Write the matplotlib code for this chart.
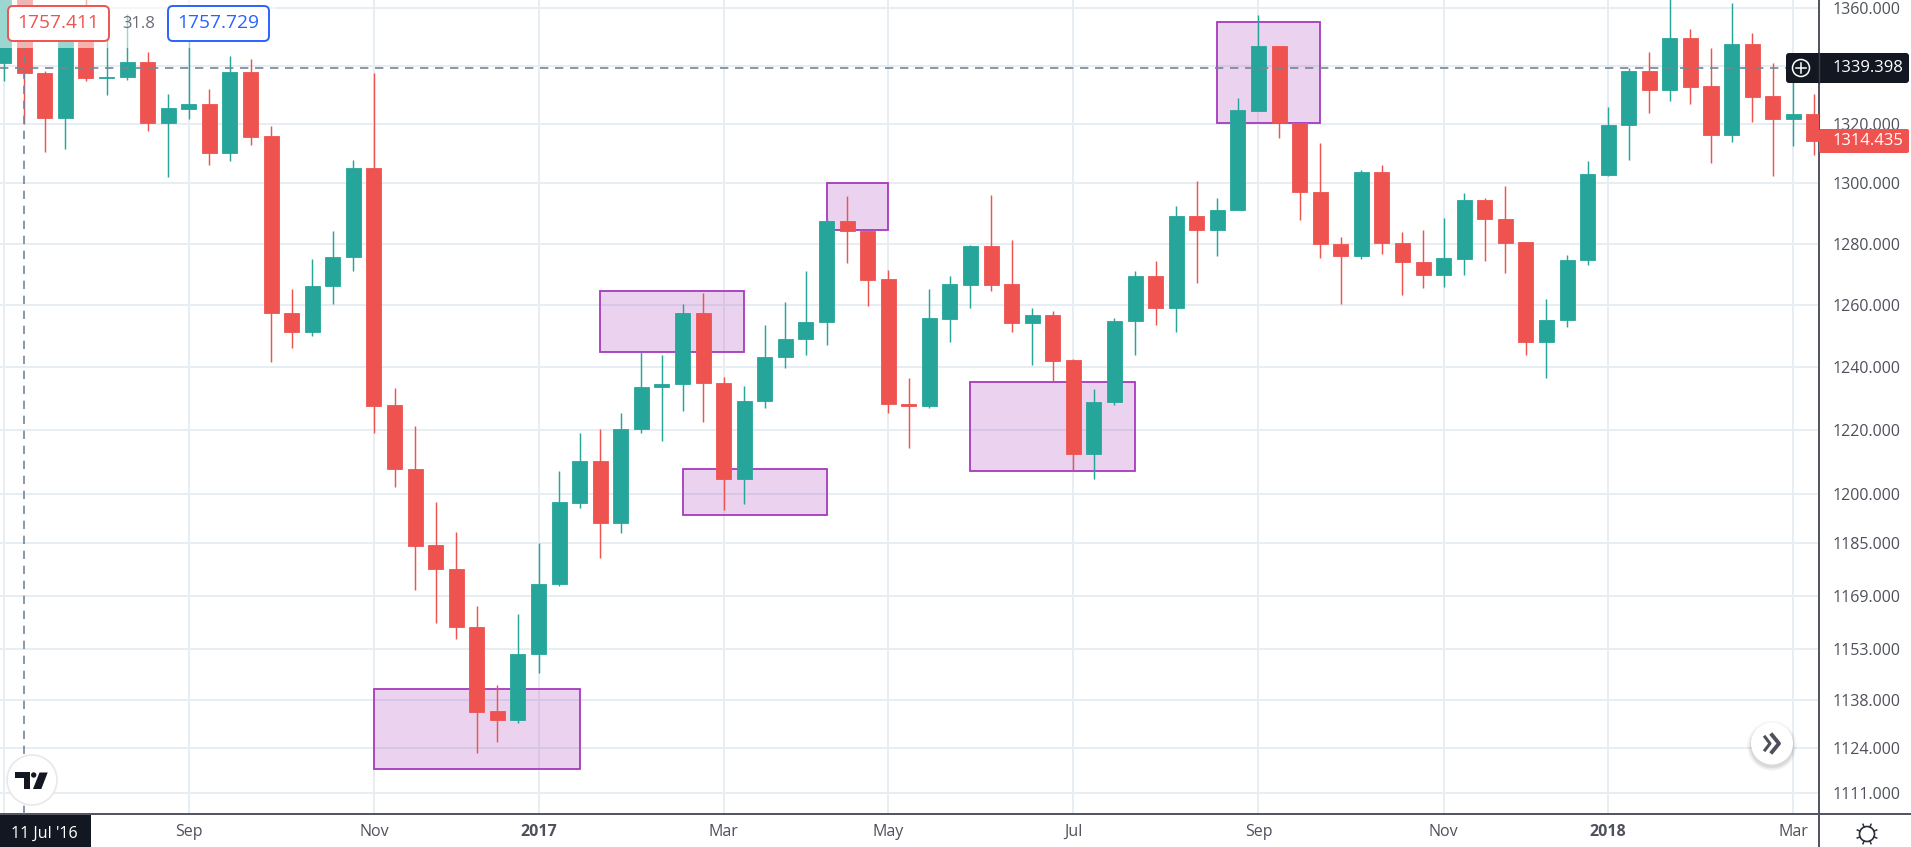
import matplotlib
matplotlib.use("Agg")
import matplotlib.pyplot as plt
from matplotlib.patches import Rectangle, FancyBboxPatch, Circle, Polygon
import numpy as np

plt.rcParams['font.family'] = ['Open Sans', 'DejaVu Sans']

# weekly candles, values
opens = [1341.1, 1364.0, 1337.5, 1322.0, 1355.9, 1335.8, 1336.0, 1341.3, 1320.4, 1325.3,
         1327.0, 1310.2, 1338.0, 1315.9, 1257.3, 1251.3, 1266.2, 1275.6, 1305.1, 1227.8,
         1207.8, 1184.3, 1177.0, 1159.7, 1134.7, 1132.2, 1151.5, 1172.5, 1197.3, 1210.4,
         1191.1, 1220.2, 1233.5, 1234.5, 1257.4, 1234.8, 1204.6, 1229.3, 1243.3, 1248.9,
         1254.4, 1287.5, 1284.2, 1268.3, 1228.3, 1227.7, 1255.4, 1266.5, 1279.2, 1266.7,
         1254.2, 1256.6, 1242.1, 1212.6, 1228.7, 1254.8, 1269.5, 1259.0, 1289.3, 1284.4,
         1291.2, 1324.6, 1346.8, 1320.4, 1297.1, 1280.0, 1276.0, 1303.8, 1280.2, 1274.0,
         1269.8, 1275.1, 1294.4, 1288.3, 1280.4, 1248.1, 1255.0, 1274.6, 1302.9, 1319.6,
         1338.2, 1331.6, 1349.7, 1333.0, 1316.3, 1347.5, 1329.6, 1321.9, 1323.4]
highs = [1366.0, 1365.0, 1338.2, 1360.0, 1366.0, 1351.4, 1358.0, 1344.9, 1330.2, 1348.6,
         1332.1, 1343.5, 1342.3, 1319.4, 1265.1, 1274.9, 1284.3, 1307.9, 1337.4, 1233.3,
         1221.2, 1197.7, 1188.3, 1165.9, 1142.4, 1163.5, 1185.0, 1207.1, 1219.0, 1220.2,
         1225.5, 1244.9, 1243.8, 1260.2, 1263.9, 1236.8, 1233.9, 1253.5, 1261.0, 1271.0,
         1288.4, 1295.7, 1284.2, 1271.3, 1236.6, 1265.1, 1269.5, 1279.5, 1296.2, 1281.2,
         1258.9, 1258.1, 1242.6, 1233.0, 1255.7, 1270.9, 1274.3, 1292.4, 1300.7, 1295.1,
         1328.9, 1357.6, 1346.8, 1320.4, 1313.7, 1282.2, 1304.5, 1306.2, 1283.9, 1284.4,
         1288.6, 1296.9, 1295.0, 1299.2, 1280.4, 1261.8, 1276.2, 1307.6, 1326.0, 1339.1,
         1344.9, 1366.0, 1352.6, 1346.1, 1361.9, 1351.5, 1340.9, 1339.2, 1330.2]
lows = [1334.9, 1320.0, 1310.6, 1311.6, 1334.6, 1329.8, 1335.0, 1317.8, 1302.3, 1321.7,
        1306.2, 1307.5, 1313.1, 1241.4, 1245.9, 1250.0, 1260.2, 1271.1, 1219.2, 1202.2,
        1170.8, 1160.8, 1156.2, 1122.5, 1125.8, 1131.4, 1146.1, 1171.8, 1195.7, 1180.5,
        1188.2, 1219.2, 1216.6, 1226.1, 1222.6, 1195.0, 1197.1, 1226.9, 1239.6, 1243.7,
        1247.0, 1273.6, 1259.7, 1225.4, 1214.2, 1226.9, 1247.9, 1259.0, 1264.6, 1251.3,
        1240.7, 1235.6, 1207.4, 1204.6, 1228.0, 1243.7, 1253.4, 1251.3, 1267.2, 1276.0,
        1291.2, 1324.6, 1315.4, 1287.9, 1275.4, 1260.4, 1275.1, 1276.6, 1263.3, 1265.4,
        1265.9, 1269.8, 1274.3, 1270.2, 1243.7, 1236.4, 1252.7, 1273.0, 1302.6, 1307.9,
        1323.9, 1328.0, 1327.0, 1306.7, 1314.1, 1320.9, 1302.6, 1312.7, 1309.7]
closes = [1365.0, 1337.4, 1322.0, 1358.4, 1335.8, 1336.0, 1341.3, 1320.4, 1325.4, 1327.0,
          1310.2, 1338.0, 1315.8, 1257.3, 1251.3, 1266.2, 1275.7, 1305.1, 1227.7, 1207.8,
          1184.2, 1177.0, 1159.6, 1134.6, 1132.2, 1151.6, 1172.6, 1197.5, 1210.4, 1191.1,
          1220.3, 1233.7, 1234.6, 1257.4, 1234.8, 1204.6, 1229.3, 1243.3, 1249.0, 1254.4,
          1287.5, 1284.1, 1268.2, 1228.2, 1227.7, 1255.7, 1266.7, 1279.2, 1266.5, 1254.2,
          1256.6, 1242.0, 1212.6, 1228.9, 1254.9, 1269.5, 1259.0, 1289.3, 1284.4, 1291.3,
          1324.8, 1346.8, 1320.4, 1297.1, 1279.8, 1276.0, 1303.8, 1280.1, 1273.9, 1269.8,
          1275.2, 1294.4, 1288.2, 1280.3, 1248.1, 1255.1, 1274.7, 1303.2, 1319.7, 1338.2,
          1331.6, 1349.7, 1332.8, 1316.3, 1347.5, 1329.4, 1321.9, 1323.4, 1314.4]

price_ticks = [1360, 1340, 1320, 1300, 1280, 1260, 1240, 1220, 1200, 1185, 1169, 1153, 1138, 1124, 1111]
month_pos = [0, 9, 18, 26, 35, 43, 52, 61, 70, 78, 87]
month_labels = ["", "Sep", "Nov", "2017", "Mar", "May", "Jul", "Sep", "Nov", "2018", "Mar"]

# purple zones: left candle, right candle, top price, bottom price
zone_left = [18, 33, 29, 40, 47, 59]
zone_right = [28, 40, 36, 43, 55, 64]
zone_top = [1141.4, 1207.9, 1264.4, 1300.3, 1235.2, 1355.2]
zone_bottom = [1118.0, 1193.7, 1244.7, 1284.5, 1207.3, 1320.5]

last_price = 1314.435
cross_price = 1339.398
cross_index = 1

GREEN = "#26a69a"
RED = "#ef5350"
GRID = "#e6eef3"
AXIS = "#50535e"
TEXT = "#4e515c"
DARK = "#131722"

W, H = 1911, 847
fig = plt.figure(figsize=(W / 100, H / 100), dpi=100)
ax = fig.add_axes([0, 33 / H, 1819 / W, 814 / H])

ax.set_yscale("log")
ax.set_ylim(1105.1, 1362.9)
ax.set_xlim(-0.18, 88.25)

ax.yaxis.tick_right()
ax.set_yticks(price_ticks)
ax.set_yticklabels(["%.3f" % p for p in price_ticks])
ax.minorticks_off()
ax.tick_params(axis="y", length=0, pad=9.5, labelsize=11.5, labelcolor=TEXT)
ax.set_xticks(month_pos)
ax.set_xticklabels(month_labels)
ax.tick_params(axis="x", length=0, pad=7, labelsize=11.5, labelcolor=TEXT)
for lab in ax.get_xticklabels():
    if lab.get_text() in ("2017", "2018"):
        lab.set_fontweight("bold")
ax.grid(True, color=GRID, lw=1.4, zorder=0)
ax.set_axisbelow(True)
for s in ["top", "left"]:
    ax.spines[s].set_visible(False)
ax.spines["right"].set_color(AXIS)
ax.spines["bottom"].set_color(AXIS)
ax.spines["right"].set_linewidth(1.4)
ax.spines["bottom"].set_linewidth(1.4)

for i in range(len(zone_left)):
    ax.add_patch(Rectangle((zone_left[i], zone_bottom[i]), zone_right[i] - zone_left[i],
                           zone_top[i] - zone_bottom[i], facecolor="#9c27b0", alpha=0.2, zorder=2))
    ax.add_patch(Rectangle((zone_left[i], zone_bottom[i]), zone_right[i] - zone_left[i],
                           zone_top[i] - zone_bottom[i], facecolor="none", edgecolor="#a63abd",
                           lw=1.3, zorder=2))

x = np.arange(len(opens))
o = np.array(opens)
c = np.array(closes)
cols = [GREEN if c[i] >= o[i] else RED for i in x]
ax.vlines(x, lows, highs, colors=cols, lw=1.05, zorder=3)
ax.bar(x, np.abs(c - o), bottom=np.minimum(o, c), width=0.73, color=cols,
       edgecolor=cols, linewidth=0.6, zorder=4)

# crosshair
ax.axhline(cross_price, xmax=1786 / 1819, color="#758696", lw=1.2, dashes=(5, 4), zorder=5)
ax.axvline(cross_index, color="#758696", lw=1.2, dashes=(5, 4), zorder=5)

# screen furniture in pixel coordinates on top of the chart
ui = fig.add_axes([0, 0, 1, 1], facecolor="none")
ui.set_xlim(0, W)
ui.set_ylim(H, 0)
ui.axis("off")

# pale band behind the measure labels
ui.add_patch(Rectangle((0, 0), 275, 48, facecolor="white", alpha=0.55, edgecolor="none"))

ui.add_patch(FancyBboxPatch((8, 6), 101, 35, boxstyle="round,pad=0,rounding_size=5",
                            facecolor="white", edgecolor=RED, lw=1.4))
ui.text(58.5, 23.5, "1757.411", color=RED, fontsize=13.8, ha="center", va="center")
ui.text(139, 23.5, "31.8", color="#6a6d78", fontsize=12, ha="center", va="center")
ui.add_patch(FancyBboxPatch((168, 6), 101, 35, boxstyle="round,pad=0,rounding_size=5",
                            facecolor="white", edgecolor="#2962ff", lw=1.4))
ui.text(218.5, 23.5, "1757.729", color="#2962ff", fontsize=13.8, ha="center", va="center")

# price tags
ui.add_patch(FancyBboxPatch((1786, 53), 123, 30, boxstyle="round,pad=0,rounding_size=3",
                            facecolor=DARK, edgecolor="none"))
ui.text(1867.5, 68, "1339.398", color="white", fontsize=12, ha="center", va="center")
ui.add_patch(Circle((1801, 68), 8.5, facecolor="none", edgecolor="white", lw=1.1))
ui.plot([1796, 1806], [68, 68], color="white", lw=1.1)
ui.plot([1801, 1801], [63, 73], color="white", lw=1.1)
ui.plot([1819, 1819], [53, 83], color="#3a3e4a", lw=1)
ui.add_patch(FancyBboxPatch((1819, 129), 90, 24, boxstyle="round,pad=0,rounding_size=2",
                            facecolor=RED, edgecolor="none"))
ui.text(1867.5, 141, "%.3f" % last_price, color="white", fontsize=12, ha="center", va="center")

# date tag under the crosshair
ui.add_patch(Rectangle((0, 815), 91, 32, facecolor=DARK, edgecolor="none"))
ui.text(44, 834, "11 Jul '16", color="white", fontsize=11.5, ha="center", va="center")

# axis corner
ui.plot([1819, 1819], [814, 847], color=AXIS, lw=1.4)
ui.plot([1819, W], [814.5, 814.5], color=AXIS, lw=1.4)

# sun icon
ui.add_patch(Circle((1867, 834), 7.5, facecolor="none", edgecolor="#2a2e39", lw=1.2))
for a in np.arange(0, 360, 45) + 22.5:
    ca, sa = np.cos(np.radians(a)), np.sin(np.radians(a))
    ui.plot([1867 + 7.5 * ca, 1867 + 10.5 * ca], [834 + 7.5 * sa, 834 + 10.5 * sa], color="#2a2e39", lw=1.1)

# scroll button with soft shadow
for r, al in zip([25, 23.5, 22], [0.03, 0.05, 0.07]):
    ui.add_patch(Circle((1772, 746), r, facecolor="black", alpha=al, edgecolor="none"))
ui.add_patch(Circle((1772, 743.5), 21, facecolor="white", edgecolor="none"))
ui.plot([1765, 1770, 1765], [737, 743.5, 750], color=TEXT, lw=2.2)
ui.plot([1772, 1779, 1772], [735, 743.5, 752], color=TEXT, lw=2.8)

# logo
ui.add_patch(Circle((32, 780), 25, facecolor="white", edgecolor="#e8e8e8", lw=1.2))
ui.add_patch(Polygon([(15, 772.5), (30, 772.5), (30, 789), (23.5, 789), (23.5, 778), (15, 778)], facecolor=DARK, edgecolor="none"))
ui.add_patch(Circle((33.7, 775), 2.7, facecolor=DARK, edgecolor="none"))
ui.add_patch(Polygon([(39.5, 772.5), (47.7, 772.5), (41.3, 789), (33, 789)], facecolor=DARK, edgecolor="none"))

fig.savefig("out.png", dpi=100)
